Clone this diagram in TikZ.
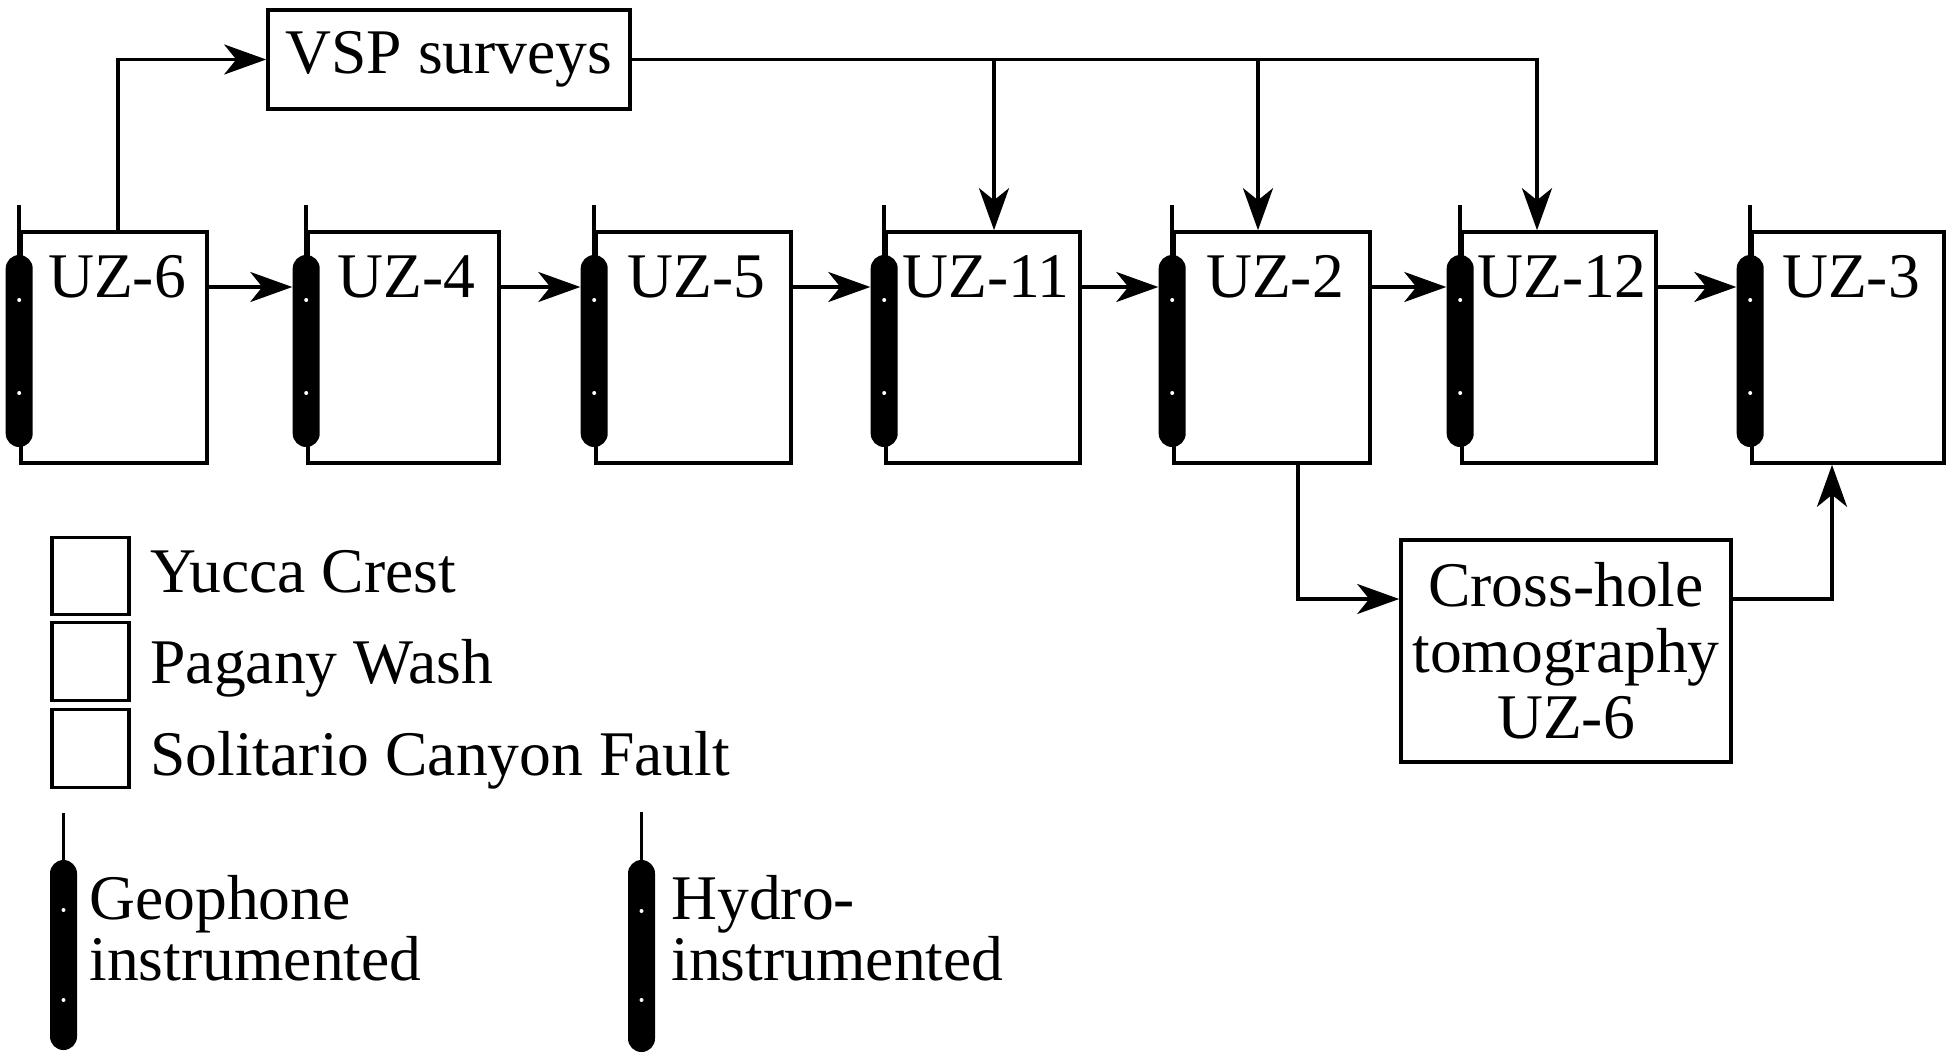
\documentclass[tikz,border=0pt]{standalone}
\usepackage{fontspec}
\setmainfont{Liberation Serif}
\usetikzlibrary{arrows.meta}
\begin{document}
\begin{tikzpicture}[x=0.5pt,y=-0.5pt,
  ln/.style={line width=1.8pt},
  arr/.style={ln,-{Stealth[length=21pt,width=15pt,inset=6pt]}},
  box/.style={draw,line width=1.8pt,inner sep=0pt,minimum height=115.5pt},
  capsule/.style={fill=black,rounded corners=6.75pt,inner sep=0pt,minimum width=13.5pt,minimum height=96pt},
  txt/.style={font=\fontsize{31.8}{33}\selectfont,inner sep=0pt},
  dot/.style={white},
]
\useasboundingbox (0,0) rectangle (1948,1054);

% borehole boxes
\foreach \n/\l/\r in {6/21/207,4/308/499,5/596/791,11/886/1080,2/1174/1370,12/1462/1656,3/1752/1944}{
  \node[box,minimum width={(\r-\l)*0.5pt}] (box\n) at ({(\l+\r)/2},347.5) {};
  \node[txt,anchor=base] (lab\n) at ({(\l+\r)/2+3},297) {UZ-\n};
}
% instrument capsules
\foreach \n in {6,4,5,11,2,12,3}{
  \node[capsule] (cap\n) at ([yshift=-1.75pt]box\n.west) {};
  \draw[ln] (cap\n.north) -- ++(0,-50);
  \fill[dot] ([yshift=25.5pt]cap\n.center) circle[radius=1pt];
  \fill[dot] ([yshift=-21pt]cap\n.center) circle[radius=1pt];
}
% sequence arrows
\coordinate (row) at (0,287);
\foreach \a/\b in {6/4,4/5,5/11,11/2,2/12,12/3}
  \draw[arr] (box\a.east |- row) -- (cap\b.west |- row);

% VSP surveys
\node[draw,line width=1.8pt,minimum width=181pt,minimum height=49.5pt,inner sep=0pt,font=\fontsize{31.8}{33}\selectfont] (vsp) at (449,59.5) {VSP surveys};
\draw[arr] ([xshift=2pt]box6.north) |- (vsp.west);
\coordinate (d1) at (994,0);
\coordinate (d2) at (1258,0);
\coordinate (d3) at (1537,0);
\draw[arr] (vsp.east) -| (box12.north -| d3);
\draw[arr] (vsp.east -| d1) -- (box11.north -| d1);
\draw[arr] (vsp.east -| d2) -- (box2.north -| d2);

% Cross-hole tomography
\node[draw,line width=1.8pt,minimum width=165pt,minimum height=111pt,inner sep=0pt,align=center,font=\fontsize{31.8}{33}\selectfont] (xh) at (1566,651) {Cross-hole\\tomography\\UZ-6};
\coordinate (k) at (1298,599);
\coordinate (m) at (1832,599);
\draw[arr] (box2.south -| k) |- (xh.west |- k);
\draw[arr] (xh.east |- m) -| (box3.south -| m);

% legend squares
\node[draw,line width=1.8pt,minimum width=38.5pt,minimum height=38.5pt,inner sep=0pt] (sq1) at (90.5,576) {};
\node[draw,line width=1.8pt,minimum width=38.5pt,minimum height=39pt,inner sep=0pt] (sq2) at (90.5,661.5) {};
\node[draw,line width=1.8pt,minimum width=38.5pt,minimum height=39pt,inner sep=0pt] (sq3) at (90.5,748.5) {};
\node[txt,anchor=base west] (ly) at (150,592) {Yucca Crest};
\node[txt,anchor=base west] (lp) at (150,683) {Pagany Wash};
\node[txt,anchor=base west] (ls) at (150,775) {Solitario Canyon Fault};

% legend instruments
\node[capsule,minimum height=95pt] (gcap) at (63.5,955) {};
\draw[ln] (gcap.north) -- ++(0,-47);
\fill[dot] ([yshift=22.5pt]gcap.center) circle[radius=1pt];
\fill[dot] ([yshift=-22.5pt]gcap.center) circle[radius=1pt];
\node[txt,anchor=base west] (g1) at (89,919) {Geophone};
\node[txt,anchor=base west] (g2) at (89,980) {instrumented};

\node[capsule,minimum height=96pt] (hcap) at (641.5,956) {};
\draw[ln] (hcap.north) -- ++(0,-48);
\fill[dot] ([yshift=22.5pt]hcap.center) circle[radius=1pt];
\fill[dot] ([yshift=-22pt]hcap.center) circle[radius=1pt];
\node[txt,anchor=base west] (h1) at (671,919) {Hydro-};
\node[txt,anchor=base west] (h2) at (671,980) {instrumented};
\end{tikzpicture}
\end{document}
